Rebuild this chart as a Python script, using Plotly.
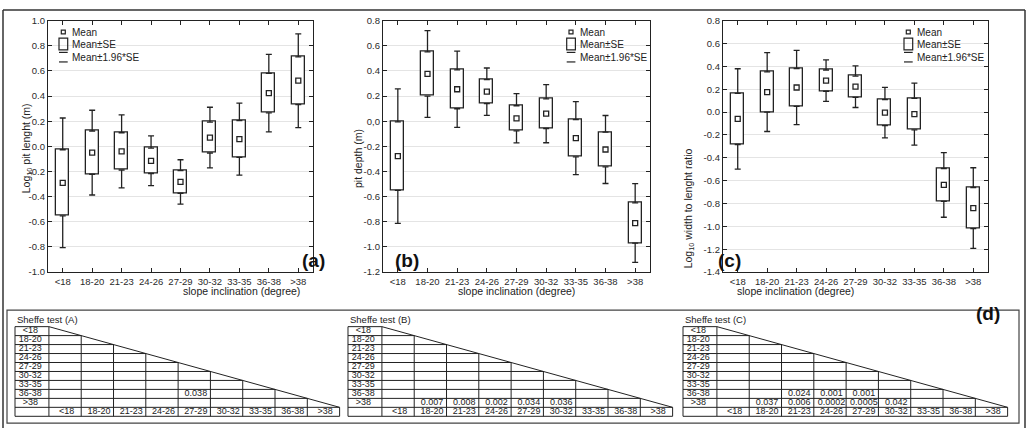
import plotly.graph_objects as go

W, H = 1026, 433
INK = "#222222"
FONT = "Arial, Liberation Sans, sans-serif"

# ---------------- data ----------------
categories = ["<18", "18-20", "21-23", "24-26", "27-29", "30-32", "33-35", "36-38", ">38"]

mean_a = [-0.290, -0.050, -0.040, -0.115, -0.283, 0.070, 0.058, 0.423, 0.522]
se_a = [0.263, 0.172, 0.148, 0.101, 0.090, 0.123, 0.146, 0.157, 0.190]

mean_b = [-0.278, 0.376, 0.254, 0.235, 0.023, 0.060, -0.135, -0.225, -0.810]
se_b = [0.273, 0.176, 0.155, 0.096, 0.100, 0.118, 0.148, 0.138, 0.160]

mean_c = [-0.060, 0.175, 0.215, 0.275, 0.222, -0.005, -0.018, -0.638, -0.840]
se_c = [0.224, 0.176, 0.166, 0.093, 0.093, 0.113, 0.138, 0.144, 0.180]

ytick_a_vals = [-1.0, -0.8, -0.6, -0.4, -0.2, 0.0, 0.2, 0.4, 0.6, 0.8, 1.0]
ytick_a_text = ["-1.0", "-0.8", "-0.6", "-0.4", "-0.2", "0.0", "0.2", "0.4", "0.6", "0.8", "1.0"]
ytick_b_vals = [-1.2, -1.0, -0.8, -0.6, -0.4, -0.2, 0.0, 0.2, 0.4, 0.6, 0.8]
ytick_b_text = ["-1.2", "-1.0", "-0.8", "-0.6", "-0.4", "-0.2", "0,0", "0.2", "0.4", "0.6", "0.8"]
ytick_c_vals = [-1.4, -1.2, -1.0, -0.8, -0.6, -0.4, -0.2, 0.0, 0.2, 0.4, 0.6, 0.8]
ytick_c_text = ["-1.4", "-1.2", "-1.0", "-0.8", "-0.6", "-0.4", "-0.2", "0.0", "0.2", "0.4", "0.6", "0.8"]

ytitle_a = "Log<sub>10</sub> pit lenght (m)"
ytitle_b = "pit depth (m)"
ytitle_c = "Log<sub>10</sub> width to lenght ratio"
xtitle = "slope inclination (degree)"
legend_labels = ["Mean", "Mean±SE", "Mean±1.96*SE"]

sheffe_a_rows = ["36-38"]
sheffe_a_cols = ["27-29"]
sheffe_a_p = ["0.038"]

sheffe_b_rows = [">38", ">38", ">38", ">38", ">38"]
sheffe_b_cols = ["18-20", "21-23", "24-26", "27-29", "30-32"]
sheffe_b_p = ["0.007", "0.008", "0.002", "0.034", "0.036"]

sheffe_c_rows = ["36-38", "36-38", "36-38", ">38", ">38", ">38", ">38", ">38"]
sheffe_c_cols = ["21-23", "24-26", "27-29", "18-20", "21-23", "24-26", "27-29", "30-32"]
sheffe_c_p = ["0.024", "0.001", "0.001", "0.037", "0.006", "0.0002", "0.0005", "0.042"]

# ---------------- helpers ----------------
def px_x(p):
    return p / W


def px_y(p):
    return 1 - p / H


fig = go.Figure()
annotations = []
shapes = []

PLOT_TOP, PLOT_BOT = 15, 273


def add_panel(k, left, right, means, ses, yrange, tvals, ttext, ytitle, ytitle_x, ytitle_y,
              label, label_x, legend_lx):
    xa = "x" if k == 1 else f"x{k}"
    ya = "y" if k == 1 else f"y{k}"
    lo = [m - s for m, s in zip(means, ses)]
    hi = [m + s for m, s in zip(means, ses)]
    ext = [0.96 * s for s in ses]
    zeros = [0] * len(means)
    fig.add_trace(go.Bar(x=categories, y=[h - l for h, l in zip(hi, lo)], base=lo, width=0.44,
                         marker=dict(color="white", line=dict(color=INK, width=1.3)),
                         xaxis=xa, yaxis=ya, showlegend=False, hoverinfo="skip"))
    fig.add_trace(go.Scatter(x=categories, y=hi, mode="markers",
                             marker=dict(size=1, color="white", opacity=0),
                             error_y=dict(type="data", symmetric=False, array=ext, arrayminus=zeros,
                                          color=INK, thickness=1.3, width=3),
                             xaxis=xa, yaxis=ya, showlegend=False, hoverinfo="skip"))
    fig.add_trace(go.Scatter(x=categories, y=lo, mode="markers",
                             marker=dict(size=1, color="white", opacity=0),
                             error_y=dict(type="data", symmetric=False, array=zeros, arrayminus=ext,
                                          color=INK, thickness=1.3, width=3),
                             xaxis=xa, yaxis=ya, showlegend=False, hoverinfo="skip"))
    fig.add_trace(go.Scatter(x=categories, y=means, mode="markers",
                             marker=dict(symbol="square-open", size=5, color=INK, line=dict(width=1.3)),
                             xaxis=xa, yaxis=ya, showlegend=False))
    xkey = "xaxis" if k == 1 else f"xaxis{k}"
    ykey = "yaxis" if k == 1 else f"yaxis{k}"
    common = dict(showline=True, linecolor=INK, linewidth=1.3, mirror="ticks", ticks="inside",
                  ticklen=4, tickcolor=INK, tickwidth=1,
                  tickfont=dict(size=9.5, color="#2a2a2a", family=FONT),
                  zeroline=False, fixedrange=True)
    fig.update_layout(**{
        xkey: dict(domain=[px_x(left), px_x(right)], range=[-0.5, 8.5], anchor=ya,
                   showgrid=False, type="category", **common),
        ykey: dict(domain=[px_y(PLOT_BOT), px_y(PLOT_TOP)], range=yrange, anchor=xa,
                   tickvals=tvals, ticktext=ttext, showgrid=True, gridcolor="#e4e4e4",
                   gridwidth=1, **common),
    })
    cx = (left + right) / 2
    annotations.append(dict(text=xtitle, x=px_x(cx), y=px_y(301), xref="paper", yref="paper",
                            showarrow=False, font=dict(size=10.5, color=INK, family=FONT)))
    annotations.append(dict(text=ytitle, x=px_x(ytitle_x), y=px_y(ytitle_y), xref="paper", yref="paper",
                            showarrow=False, textangle=-90, font=dict(size=10.5, color=INK, family=FONT)))
    annotations.append(dict(text=f"<b>{label}</b>", x=px_x(label_x), y=px_y(261), xref="paper",
                            yref="paper", showarrow=False, font=dict(size=19, color="#111", family=FONT)))
    # legend
    lx = legend_lx
    shapes.append(dict(type="rect", xref="paper", yref="paper", x0=px_x(lx + 2.3), x1=px_x(lx + 6.3),
                       y0=px_y(28.7), y1=px_y(24.7), line=dict(color=INK, width=1.2)))
    shapes.append(dict(type="rect", xref="paper", yref="paper", x0=px_x(lx), x1=px_x(lx + 8.7),
                       y0=px_y(45), y1=px_y(33), line=dict(color=INK, width=1.2)))
    for yy in (47.6, 57.4):
        shapes.append(dict(type="line", xref="paper", yref="paper", x0=px_x(lx), x1=px_x(lx + 8.7),
                           y0=px_y(yy), y1=px_y(yy), line=dict(color=INK, width=1.2)))
    for lab, yy in zip(legend_labels, (26.7, 39.5, 52.5)):
        annotations.append(dict(text=lab, x=px_x(lx + 11), y=px_y(yy), xref="paper", yref="paper",
                                xanchor="left", yanchor="middle", showarrow=False,
                                font=dict(size=10, color=INK, family=FONT)))


add_panel(1, 48, 313, mean_a, se_a, [-1.0, 1.0], ytick_a_vals, ytick_a_text, ytitle_a, 18, 146,
          "(a)", 300, 59)
add_panel(2, 383, 650, mean_b, se_b, [-1.2, 0.8], ytick_b_vals, ytick_b_text, ytitle_b, 358, 157,
          "(b)", 407, 566.7)
add_panel(3, 723, 988, mean_c, se_c, [-1.4, 0.8], ytick_c_vals, ytick_c_text, ytitle_c, 698, 144,
          "(c)", 743, 904)

# ---------------- Scheffe tables ----------------
LW = 1.05
N = len(categories)
COLW = 32.3
ROWH = 9.2
T_TOP = 329


def add_table(k, left, rows, cols, pvals, title):
    xa, ya = f"x{k}", f"y{k}"
    xs, ys = [], []

    def seg(x0, y0, x1, y1):
        xs.extend([x0, x1, None])
        ys.extend([y0, y1, None])

    seg(-LW, 0, -LW, N + 1)
    seg(0, 0, 0, N + 1)
    for r in range(N + 2):
        seg(-LW, r, 0, r)
    seg(0, N, N, N)
    seg(0, N + 1, N, N + 1)
    for j in range(1, N + 1):
        seg(j, N, j, N + 1)
    for r in range(1, N):
        seg(0, r, r, r)
    for j in range(1, N):
        seg(j, j, j, N)
    seg(0, 0, N, N)
    fig.add_trace(go.Scatter(x=xs, y=ys, mode="lines", line=dict(color=INK, width=1),
                             xaxis=xa, yaxis=ya, showlegend=False, hoverinfo="skip"))
    fig.add_trace(go.Scatter(x=[-LW / 2 - 0.05] * N, y=[i + 0.5 for i in range(N)], mode="text",
                             text=categories, textposition="middle center",
                             textfont=dict(size=9, color=INK, family=FONT),
                             xaxis=xa, yaxis=ya, showlegend=False, hoverinfo="skip"))
    fig.add_trace(go.Scatter(x=[j + 0.55 for j in range(N)], y=[N + 0.5] * N, mode="text",
                             text=categories, textposition="middle center",
                             textfont=dict(size=9, color=INK, family=FONT),
                             xaxis=xa, yaxis=ya, showlegend=False, hoverinfo="skip"))
    fig.add_trace(go.Scatter(x=[categories.index(c) + 0.55 for c in cols],
                             y=[categories.index(r) + 0.5 for r in rows], mode="text",
                             text=pvals, textposition="middle center",
                             textfont=dict(size=9, color=INK, family=FONT),
                             xaxis=xa, yaxis=ya, showlegend=False, hoverinfo="skip"))
    x_lo, x_hi = -LW - 0.1, N + 0.1
    y_lo, y_hi = -0.1, N + 1 + 0.1
    d_left = left - 0.1 * COLW
    d_right = d_left + (x_hi - x_lo) * COLW
    d_top = T_TOP - 0.1 * ROWH
    d_bot = d_top + (y_hi - y_lo) * ROWH
    fig.update_layout(**{
        f"xaxis{k}": dict(domain=[px_x(d_left), px_x(d_right)], range=[x_lo, x_hi], visible=False,
                          anchor=ya, fixedrange=True),
        f"yaxis{k}": dict(domain=[px_y(d_bot), px_y(d_top)], range=[y_hi, y_lo], visible=False,
                          anchor=xa, fixedrange=True),
    })
    annotations.append(dict(text=title, x=-LW, y=0, xref=xa, yref=ya, xanchor="left", yanchor="bottom",
                            showarrow=False, font=dict(size=9.5, color=INK, family=FONT)))


add_table(4, 15, sheffe_a_rows, sheffe_a_cols, sheffe_a_p, "Sheffe test (A)")
add_table(5, 348, sheffe_b_rows, sheffe_b_cols, sheffe_b_p, "Sheffe test (B)")
add_table(6, 683, sheffe_c_rows, sheffe_c_cols, sheffe_c_p, "Sheffe test (C)")

annotations.append(dict(text="<b>(d)</b>", x=px_x(1002), y=px_y(328), xref="paper", yref="paper",
                        showarrow=False, font=dict(size=19, color="#111", family=FONT)))

# ---------------- frames ----------------
FR = dict(color="#333333", width=1.5)
shapes.append(dict(type="line", xref="paper", yref="paper", x0=px_x(3), x1=px_x(1025),
                   y0=px_y(4), y1=px_y(4), line=FR))
shapes.append(dict(type="line", xref="paper", yref="paper", x0=px_x(3), x1=px_x(3),
                   y0=px_y(4), y1=0, line=FR))
shapes.append(dict(type="line", xref="paper", yref="paper", x0=px_x(1025), x1=px_x(1025),
                   y0=px_y(4), y1=0, line=FR))
shapes.append(dict(type="rect", xref="paper", yref="paper", x0=px_x(7), x1=px_x(1019),
                   y0=px_y(428), y1=px_y(312), line=dict(color="#444444", width=1.2)))

fig.update_layout(width=W, height=H, margin=dict(l=0, r=0, t=0, b=0),
                  paper_bgcolor="white", plot_bgcolor="white", showlegend=False,
                  annotations=annotations, shapes=shapes, bargap=0,
                  font=dict(family=FONT, color=INK))

fig.write_html("out.html", config={"displayModeBar": False},
               post_script="document.body.style.margin='0px';document.body.style.overflow='hidden';")
